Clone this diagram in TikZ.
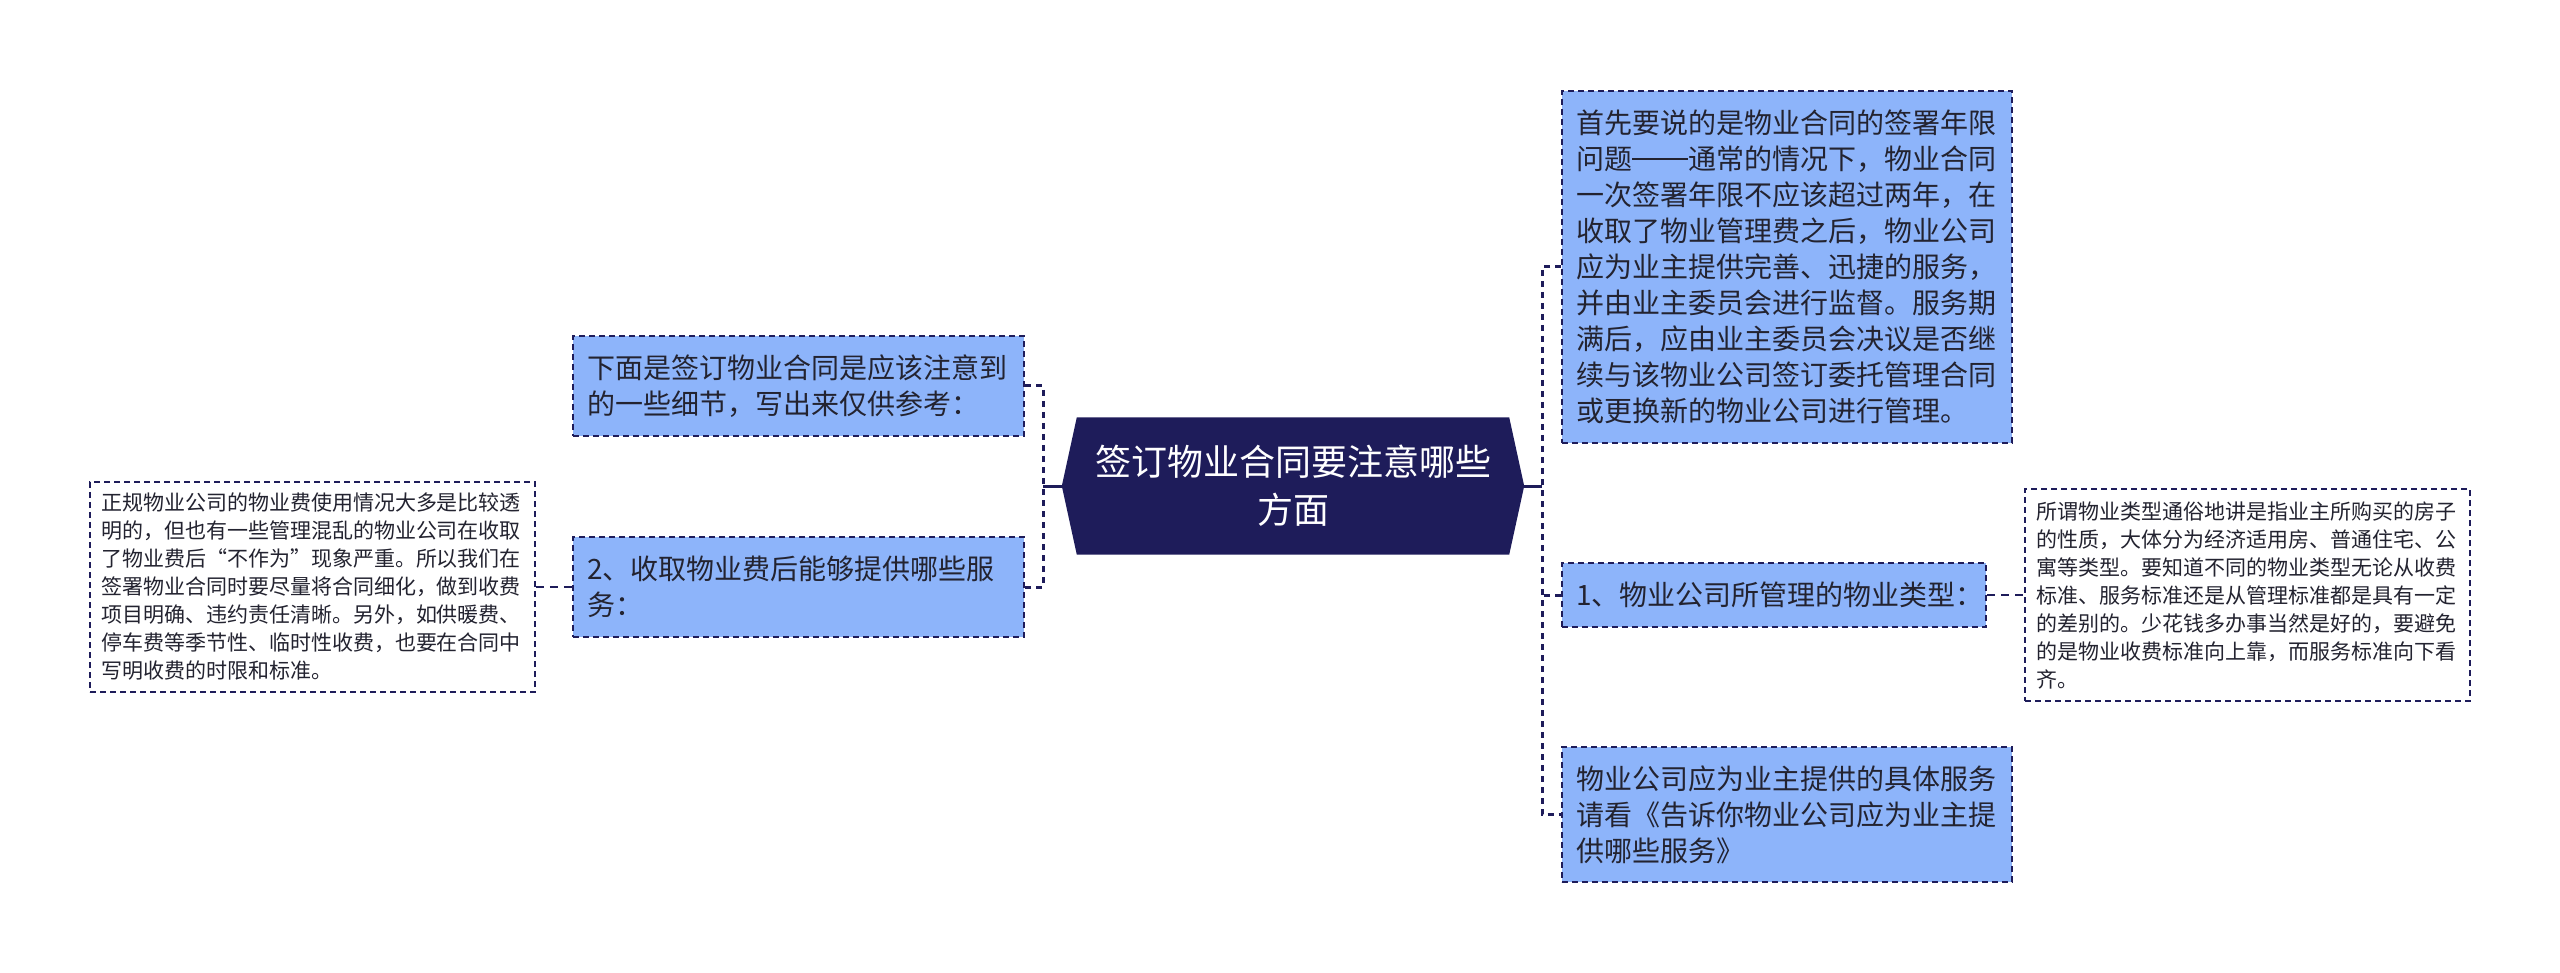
\documentclass[tikz,border=0pt]{standalone}
\usepackage{fontspec}
\setmainfont{Noto Sans CJK SC}
\usetikzlibrary{backgrounds}
\definecolor{navy}{RGB}{30,28,90}
\definecolor{topicblue}{RGB}{141,180,250}
\definecolor{inktext}{RGB}{35,35,48}
\newcommand{\longdash}{\rule[0.36em]{2em}{1.6pt}}
\tikzset{
  rootbox/.style={minimum width=462pt, minimum height=137pt, inner sep=0pt,
    align=center, text=white, font=\fontsize{36}{48}\selectfont},
  topic/.style={draw=navy, fill=topicblue, line width=2pt, dash pattern=on 6pt off 4pt,
    inner xsep=14pt, inner ysep=0pt, align=left, text=inktext,
    font=\fontsize{28}{36}\selectfont},
  note/.style={draw=navy, fill=white, line width=1.5pt, dash pattern=on 6pt off 4pt,
    inner xsep=11pt, inner ysep=0pt, align=left, text=inktext,
    font=\fontsize{21}{28}\selectfont},
  bracket/.style={navy, line width=3pt, dash pattern=on 6pt off 5pt},
  stub/.style={navy, line width=3pt},
  link/.style={navy, line width=1.5pt, dash pattern=on 8pt off 6pt}
}
\begin{document}
\begin{tikzpicture}[x=1pt, y=-1pt]
        \useasboundingbox (0,0) rectangle (2560,973);
        \node[rootbox] (root) at (1293,486) {签订物业合同要注意哪些\\方面};
        \begin{scope}[on background layer]
            \fill[navy] (root.west) -- ([xshift=15pt]root.north west) -- ([xshift=-15pt]root.north east)
                -- (root.east) -- ([xshift=-15pt]root.south east) -- ([xshift=15pt]root.south west) -- cycle;
        \end{scope}
        % left side
        \node[topic, minimum width=451pt, minimum height=100pt, text width=423pt] (detail) at (798.5,386)
            {下面是签订物业合同是应该注意到\\的一些细节，写出来仅供参考：};
        \node[topic, minimum width=451pt, minimum height=100pt, text width=423pt] (service) at (798.5,587)
            {2、收取物业费后能够提供哪些服\\务：};
        \node[note, minimum width=445pt, minimum height=210pt, text width=423pt] (fee) at (312.5,587)
            {正规物业公司的物业费使用情况大多是比较透\\明的，但也有一些管理混乱的物业公司在收取\\了物业费后“不作为”现象严重。所以我们在\\签署物业合同时要尽量将合同细化，做到收费\\项目明确、违约责任清晰。另外，如供暖费、\\停车费等季节性、临时性收费，也要在合同中\\写明收费的时限和标准。};
        % right side
        \node[topic, minimum width=450pt, minimum height=352pt, text width=422pt] (term) at (1787,267)
            {首先要说的是物业合同的签署年限\\问题\longdash 通常的情况下，物业合同\\一次签署年限不应该超过两年，在\\收取了物业管理费之后，物业公司\\应为业主提供完善、迅捷的服务，\\并由业主委员会进行监督。服务期\\满后，应由业主委员会决议是否继\\续与该物业公司签订委托管理合同\\或更换新的物业公司进行管理。};
        \node[topic, minimum width=424pt, minimum height=64pt, text width=396pt] (kind) at (1774,595)
            {1、物业公司所管理的物业类型：};
        \node[topic, minimum width=450pt, minimum height=135pt, text width=422pt] (offer) at (1787,814.5)
            {物业公司应为业主提供的具体服务\\请看《告诉你物业公司应为业主提\\供哪些服务》};
        \node[note, minimum width=445pt, minimum height=212pt, text width=423pt] (kindnote) at (2247.5,595)
            {所谓物业类型通俗地讲是指业主所购买的房子\\的性质，大体分为经济适用房、普通住宅、公\\寓等类型。要知道不同的物业类型无论从收费\\标准、服务标准还是从管理标准都是具有一定\\的差别的。少花钱多办事当然是好的，要避免\\的是物业收费标准向上靠，而服务标准向下看\\齐。};
        % connectors
        \coordinate (lj) at (1043,486);
        \coordinate (rj) at (1542,486);
        \draw[bracket] (detail.east) -| (lj) |- (service.east);
        \draw[stub] (root.west) -- (lj);
        \draw[bracket] (term.west) -| (rj) |- (offer.west);
        \draw[bracket] (kind.west) -- (kind.west -| rj);
        \draw[stub] (root.east) -- (rj);
        \draw[link] (fee.east) -- (service.west);
        \draw[link] (kind.east) -- (kindnote.west);
    \end{tikzpicture}
\end{document}
